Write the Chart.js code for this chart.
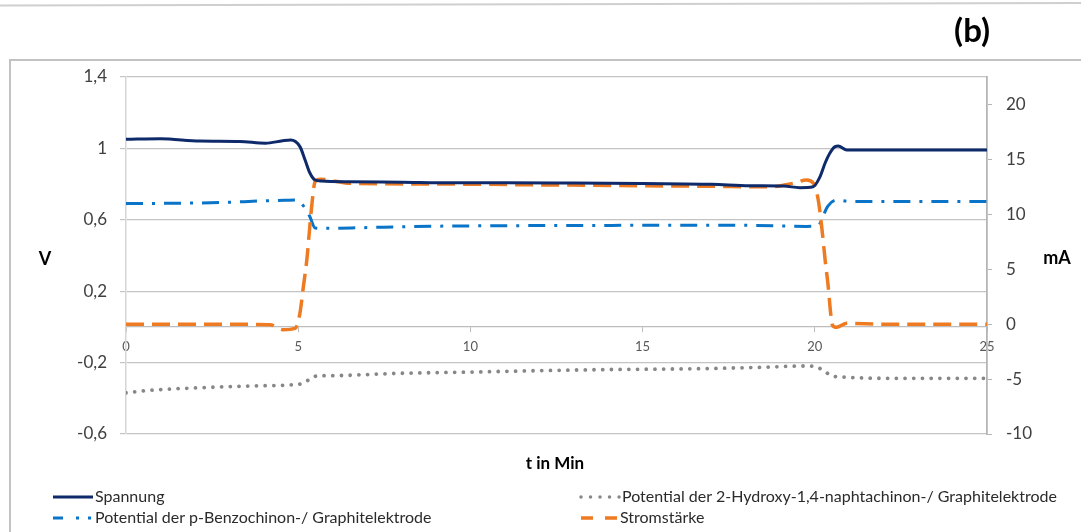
<!DOCTYPE html>
<html>
<head>
<meta charset="utf-8">
<script src="https://cdn.jsdelivr.net/npm/chart.js@4.4.1/dist/chart.umd.min.js"></script>
<style>
  html, body { margin: 0; padding: 0; background: #fff; overflow: hidden; }
  canvas { display: block; }
</style>
</head>
<body>
<canvas id="chart" width="1081" height="532"></canvas>
<script>
// Zellspannung (V) über der Zeit (min)
const spannungT = [0, 1, 2.15, 3.3, 4.05, 4.55, 4.78, 5.05, 5.2, 5.34, 5.49, 5.68, 6.5, 8, 9.4, 11, 13, 15, 17, 18.1, 19.1, 19.57, 19.95, 20.15, 20.3, 20.44, 20.59, 20.68, 20.93, 22, 25];
const spannungV = [1.051, 1.054, 1.041, 1.039, 1.029, 1.043, 1.047, 1.010, 0.935, 0.862, 0.823, 0.817, 0.813, 0.811, 0.808, 0.808, 0.806, 0.803, 0.799, 0.791, 0.789, 0.780, 0.785, 0.841, 0.918, 0.974, 1.010, 1.013, 0.991, 0.991, 0.991];

// Potential der p-Benzochinon-/Graphitelektrode (V)
const benzoT = [0, 1, 2, 3, 3.83, 4.6, 4.91, 5.2, 5.34, 5.49, 5.83, 6.88, 8.25, 9.4, 11, 13, 15, 17, 18.1, 19.76, 20.1, 20.23, 20.38, 20.64, 21, 25];
const benzoV = [0.692, 0.692, 0.694, 0.698, 0.705, 0.709, 0.711, 0.666, 0.617, 0.554, 0.552, 0.556, 0.562, 0.565, 0.567, 0.568, 0.569, 0.569, 0.569, 0.563, 0.566, 0.617, 0.677, 0.711, 0.703, 0.703];

// Potential der 2-Hydroxy-1,4-naphtachinon-/Graphitelektrode (V)
const hydroT = [0, 0.78, 2.15, 3.6, 4.76, 5.14, 5.34, 5.54, 6.01, 7.96, 10, 12, 14, 16.67, 18.5, 19.76, 20.0, 20.23, 20.44, 20.64, 22.47, 25];
const hydroV = [-0.369, -0.354, -0.341, -0.331, -0.325, -0.316, -0.292, -0.275, -0.273, -0.260, -0.253, -0.245, -0.239, -0.234, -0.226, -0.219, -0.223, -0.241, -0.269, -0.279, -0.288, -0.288];

// Stromstärke (mA)
const stromT = [0, 2, 4.18, 4.56, 4.91, 5.05, 5.15, 5.25, 5.32, 5.39, 5.49, 5.63, 6.5, 9.4, 12, 15, 17, 18.12, 18.7, 19.37, 19.76, 19.96, 20.1, 20.2, 20.3, 20.39, 20.46, 20.51, 20.63, 20.93, 22, 25];
const stromMA = [0, 0, -0.05, -0.5, -0.38, 0.99, 3.41, 5.84, 8.27, 10.69, 12.97, 13.19, 12.82, 12.75, 12.68, 12.6, 12.55, 12.51, 12.5, 12.82, 13.12, 12.82, 11.3, 8.87, 5.84, 3.41, 0.99, -0.08, -0.29, 0.08, 0, 0];

// Achsenbereiche
const timeRange = [0, 25], timeStep = 5;
const voltRange = [-0.6, 1.4], voltStep = 0.4;
const ampRange = [-10, 22.5], ampStep = 5;

const seriesNames = [
  'Spannung',
  'Potential der p-Benzochinon-/ Graphitelektrode',
  'Potential der 2-Hydroxy-1,4-naphtachinon-/ Graphitelektrode',
  'Stromstärke'
];

const zip = (xs, ys) => xs.map((x, i) => ({ x, y: ys[i] }));
const deNum = v => String(Number(v.toFixed(2))).replace('.', ',');

const FONT = "Lato, 'Open Sans', 'DejaVu Sans', sans-serif";
Chart.defaults.font.family = FONT;

const COLORS = {
  navy: '#0e2a6b',
  blue: '#0a74c8',
  gray: '#878787',
  orange: '#ee7b22'
};

// Rahmen, Titel, Achsenbeschriftungen und Legende
const decorations = {
  id: 'decorations',
  beforeDraw(chart) {
    const ctx = chart.ctx;
    ctx.save();
    ctx.strokeStyle = '#cfcfcf';
    ctx.lineWidth = 2;
    ctx.beginPath();
    ctx.moveTo(0, 5.5); ctx.lineTo(1081, 3);
    ctx.stroke();
    ctx.strokeStyle = '#c2c2c2';
    ctx.beginPath();
    ctx.moveTo(10, 540); ctx.lineTo(10, 60); ctx.lineTo(1090, 60);
    ctx.stroke();
    ctx.restore();
  },
  afterDraw(chart) {
    const ctx = chart.ctx;
    ctx.save();
    ctx.fillStyle = '#000';
    ctx.textBaseline = 'alphabetic';
    ctx.textAlign = 'right';
    ctx.font = `bold 33px ${FONT}`;
    ctx.fillText('(b)', 990, 42);

    ctx.textAlign = 'center';
    ctx.textBaseline = 'middle';
    ctx.font = `bold 18px ${FONT}`;
    ctx.fillText('V', 45, 259);
    ctx.fillText('mA', 1057, 258);
    ctx.font = `bold 17px ${FONT}`;
    ctx.fillText('t in Min', 555, 464);

    const ds = chart.data.datasets;
    const items = [
      { i: 0, x0: 53, x1: 93, y: 497, dash: [], cap: 'butt', w: 3 },
      { i: 1, x0: 53, x1: 93, y: 518, dash: [10, 13, 3, 9, 3, 100], cap: 'butt', w: 3 },
      { i: 2, x0: 581, x1: 620, y: 497, dash: [0.01, 9.5], cap: 'round', w: 3.5 },
      { i: 3, x0: 581, x1: 618, y: 518, dash: [12, 12], cap: 'butt', w: 3.5 }
    ];
    ctx.font = `16px ${FONT}`;
    ctx.textAlign = 'left';
    items.forEach(it => {
      ctx.strokeStyle = ds[it.i].borderColor;
      ctx.lineWidth = it.w;
      ctx.lineCap = it.cap;
      ctx.setLineDash(it.dash);
      ctx.beginPath();
      ctx.moveTo(it.x0, it.y); ctx.lineTo(it.x1, it.y);
      ctx.stroke();
      ctx.setLineDash([]);
      ctx.fillStyle = '#2b2b2b';
      ctx.fillText(ds[it.i].label, it.x1 + 2, it.y);
    });
    ctx.restore();
  }
};

function build() {
  new Chart(document.getElementById('chart'), {
    type: 'line',
    data: {
      datasets: [
        {
          label: seriesNames[0], data: zip(spannungT, spannungV), yAxisID: 'y',
          borderColor: COLORS.navy, borderWidth: 3, order: 1
        },
        {
          label: seriesNames[1], data: zip(benzoT, benzoV), yAxisID: 'y',
          borderColor: COLORS.blue, borderWidth: 3, borderDash: [17, 9, 3, 9], order: 3
        },
        {
          label: seriesNames[2], data: zip(hydroT, hydroV), yAxisID: 'y',
          borderColor: COLORS.gray, borderWidth: 3.8, borderDash: [0.01, 8.7], borderCapStyle: 'round', order: 4
        },
        {
          label: seriesNames[3], data: zip(stromT, stromMA), yAxisID: 'y1',
          borderColor: COLORS.orange, borderWidth: 3.5, borderDash: [18, 8], order: 2
        }
      ]
    },
    options: {
      responsive: false,
      animation: false,
      devicePixelRatio: 1,
      layout: { padding: { left: 0, right: 0, top: 77, bottom: 98 } },
      elements: {
        point: { radius: 0, hoverRadius: 0 },
        line: { cubicInterpolationMode: 'monotone', fill: false }
      },
      plugins: { legend: { display: false }, tooltip: { enabled: false } },
      scales: {
        x: {
          type: 'linear',
          position: { y: 0 },
          min: timeRange[0], max: timeRange[1],
          ticks: { stepSize: timeStep, color: '#595959', font: { size: 13 }, padding: 7, maxRotation: 0 },
          grid: { drawOnChartArea: false, drawTicks: true, tickLength: 5, color: '#bdbdbd' },
          border: { color: '#bdbdbd', width: 1.2 }
        },
        y: {
          position: 'left',
          min: voltRange[0], max: voltRange[1],
          afterFit: s => { s.width = 126; },
          ticks: { stepSize: voltStep, color: '#404040', font: { size: 17 }, padding: 13, callback: v => deNum(v) },
          grid: { color: '#c4c4c4', lineWidth: 1.2, tickLength: 6 },
          border: { color: '#d6d6d6', width: 1.5 }
        },
        y1: {
          position: 'right',
          min: ampRange[0], max: ampRange[1],
          afterFit: s => { s.width = 94; },
          afterBuildTicks: s => { s.ticks = s.ticks.filter(t => Math.abs(t.value % ampStep) < 1e-9); },
          ticks: { stepSize: ampStep, color: '#404040', font: { size: 17 }, padding: 14, callback: v => deNum(v) },
          grid: { drawOnChartArea: false, color: '#b5b5b5', tickLength: 5 },
          border: { color: '#b5b5b5', width: 1.8 }
        }
      }
    },
    plugins: [decorations]
  });
}

const fontLoads = ['16px Lato', 'bold 18px Lato'].map(f => document.fonts ? document.fonts.load(f) : Promise.resolve());
Promise.all(fontLoads).then(build, build);
</script>
</body>
</html>
